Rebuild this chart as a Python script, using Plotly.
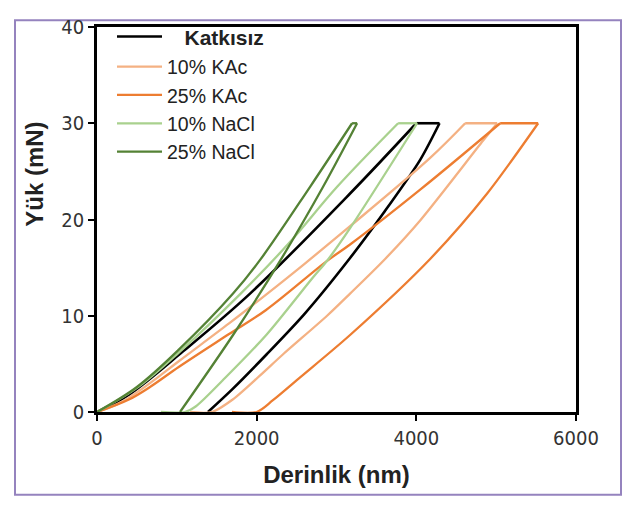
import plotly.graph_objects as go

# ---- data ----
series_names = ["Katkısız", "10% KAc", "25% KAc", "10% NaCl", "25% NaCl"]
series_colors = ["#000000", "#F4B183", "#ED7D31", "#A9D18E", "#548235"]

# loading branch (depth nm, load mN)
katkisiz_load_d = [0, 400, 1078, 1917, 3170, 4000]
katkisiz_load_L = [0, 1.8, 6.3, 12.3, 22.7, 30]
# unloading branch (starts at end of hold)
katkisiz_unl_d = [4290, 4048, 3600, 3170, 2600, 2126, 1700, 1390]
katkisiz_unl_L = [30, 26.2, 20.8, 16.0, 10.2, 6.0, 2.4, 0]

kac10_load_d = [0, 300, 664, 1028, 1654, 2118, 2600, 3170, 4173, 4612]
kac10_load_L = [0, 1.0, 3.0, 5.3, 9.2, 12.2, 15.4, 19.3, 26.4, 30]
kac10_unl_d = [5013, 4837, 4048, 3609, 3170, 2882, 2331, 2043, 1700, 1440, 1165]
kac10_unl_L = [30, 28.2, 19.9, 15.9, 12.3, 10.0, 6.0, 3.8, 1.3, 0, 0]

kac25_load_d = [0, 400, 664, 1028, 1654, 2118, 2882, 3170, 4048, 5050]
kac25_load_L = [0, 1.3, 2.6, 4.7, 8.1, 10.6, 15.7, 17.4, 23.1, 30]
kac25_unl_d = [5526, 4887, 4173, 3170, 2544, 2200, 2000, 1690]
kac25_unl_L = [30, 22.7, 15.9, 8.0, 3.6, 1.2, 0, 0]

nacl10_load_d = [0, 500, 1028, 1800, 2400, 3008, 3772]
nacl10_load_L = [0, 2.5, 6.2, 12.3, 17.5, 23.4, 30]
nacl10_unl_d = [4010, 3170, 2890, 2707, 2120, 1600, 1240, 1100, 800]
nacl10_unl_L = [30, 19.1, 15.8, 14.0, 8.0, 3.5, 0.6, 0, 0]

nacl25_load_d = [0, 500, 1028, 1704, 2043, 2669, 3195]
nacl25_load_L = [0, 2.6, 6.5, 12.3, 15.8, 23.4, 30]
nacl25_unl_d = [3258, 2832, 2293, 1704, 1040]
nacl25_unl_L = [30, 23.4, 15.7, 8.0, 0]

x_ticks = [0, 2000, 4000, 6000]
y_ticks = [0, 10, 20, 30, 40]

series = [
    (katkisiz_load_d, katkisiz_load_L, katkisiz_unl_d, katkisiz_unl_L),
    (kac10_load_d, kac10_load_L, kac10_unl_d, kac10_unl_L),
    (kac25_load_d, kac25_load_L, kac25_unl_d, kac25_unl_L),
    (nacl10_load_d, nacl10_load_L, nacl10_unl_d, nacl10_unl_L),
    (nacl25_load_d, nacl25_load_L, nacl25_unl_d, nacl25_unl_L),
]

# page offset: the browser body has an 8px margin
L_M, T_M, R_M, B_M = 89, 8, 66, 103
PW = 634 - L_M - R_M
PH = 507 - T_M - B_M


def px(xp):
    return (xp - 8 - L_M) / PW


def py(yp):
    return (507 - B_M - (yp - 8)) / PH


fig = go.Figure()
for i, (name, col, s) in enumerate(zip(series_names, series_colors, series)):
    ld, lL, ud, uL = s
    w = 2.6 if i == 0 else 2.3
    leg = "legend" if i == 0 else "legend2"
    shown = ("\u00a0\u00a0\u00a0" + name) if i == 0 else name
    fig.add_trace(go.Scatter(
        x=ld, y=lL, mode="lines", name=shown, legendgroup=name, legend=leg,
        line=dict(color=col, width=w, shape="spline", smoothing=1.0)))
    fig.add_trace(go.Scatter(
        x=[ld[-1], ud[0]], y=[lL[-1], uL[0]], mode="lines", name=shown, legendgroup=name,
        legend=leg, showlegend=False, line=dict(color=col, width=w)))
    fig.add_trace(go.Scatter(
        x=ud, y=uL, mode="lines", name=shown, legendgroup=name, legend=leg, showlegend=False,
        line=dict(color=col, width=w, shape="spline", smoothing=0.8)))

tick_font = dict(family="Liberation Sans Narrow, DejaVu Sans Condensed, Arial", size=20, color="#333333")

fig.update_layout(
    width=634, height=507,
    margin=dict(l=L_M, r=R_M, t=T_M, b=B_M),
    paper_bgcolor="white", plot_bgcolor="white",
    showlegend=True,
    legend=dict(x=px(112), y=py(5), xanchor="left", yanchor="top", bgcolor="rgba(0,0,0,0)",
                itemwidth=45, tracegroupgap=0,
                font=dict(family="Liberation Sans, Arial", size=21, color="#222222", weight="bold")),
    legend2=dict(x=px(112), y=py(37), xanchor="left", yanchor="top", bgcolor="rgba(0,0,0,0)",
                 itemwidth=45, tracegroupgap=0,
                 font=dict(family="Liberation Sans, Arial", size=19.5, color="#222222")),
    xaxis=dict(range=[0, 6000], tickvals=x_ticks, showgrid=False, zeroline=False,
               showline=True, linecolor="black", linewidth=2.5, mirror=True,
               ticks="outside", ticklen=6, tickwidth=1.5, tickcolor="black",
               tickfont=tick_font,
               title=dict(text="Derinlik (nm)", standoff=18,
                          font=dict(family="Liberation Sans, Arial", size=24, color="#222222", weight="bold"))),
    yaxis=dict(range=[0, 40], tickvals=y_ticks, showgrid=False, zeroline=False,
               showline=True, linecolor="black", linewidth=2.5, mirror=True,
               ticks="outside", ticklen=6, tickwidth=1.5, tickcolor="black",
               tickfont=tick_font),
    annotations=[dict(text="Yük (mN)", textangle=-90, xref="paper", yref="paper",
                      x=px(35), y=py(168), showarrow=False,
                      xanchor="center", yanchor="middle",
                      font=dict(family="Liberation Sans, Arial", size=24, color="#222222", weight="bold"))],
    shapes=[dict(type="rect", xref="paper", yref="paper",
                 x0=px(15), x1=px(621),
                 y0=py(497), y1=py(9),
                 line=dict(color="#9583BE", width=2), fillcolor="rgba(0,0,0,0)", layer="below")],
)

fig.write_html("out.html")
